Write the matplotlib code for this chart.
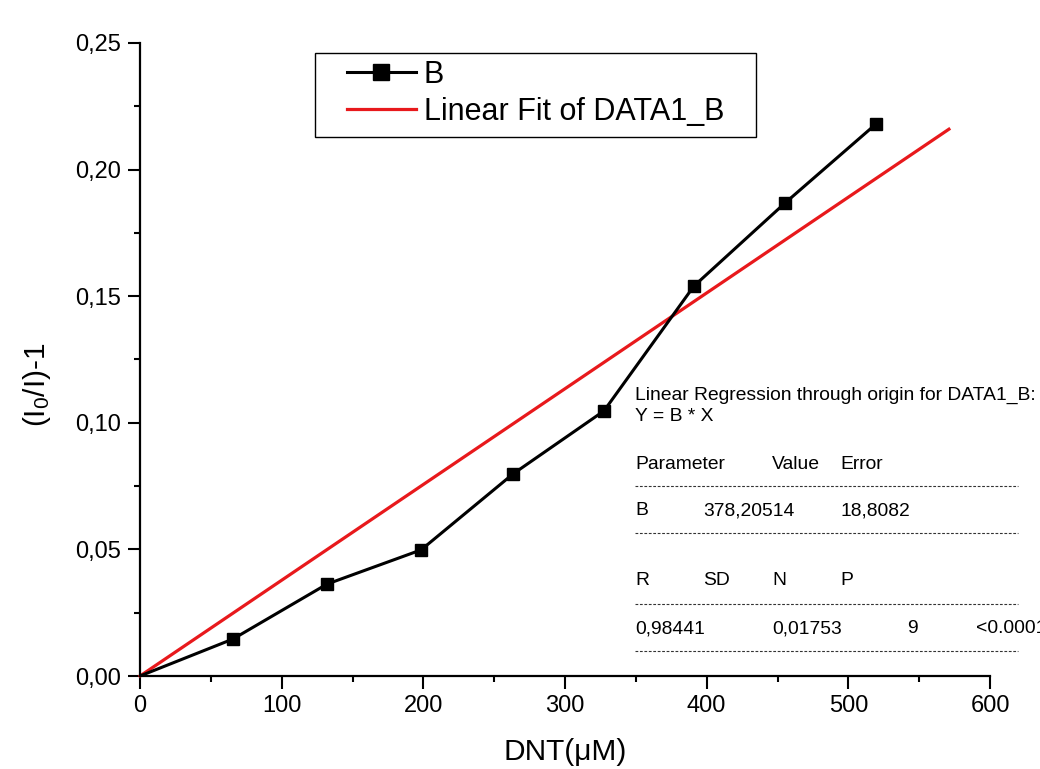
import matplotlib
matplotlib.use("Agg")
import matplotlib.pyplot as plt
from matplotlib.ticker import MultipleLocator, FuncFormatter
from matplotlib.lines import Line2D
from matplotlib.patches import Rectangle

plt.rcParams['font.family'] = ['Liberation Sans', 'DejaVu Sans']
plt.rcParams['mathtext.fontset'] = 'custom'
plt.rcParams['mathtext.rm'] = 'Liberation Sans'
plt.rcParams['mathtext.it'] = 'Liberation Sans:italic'

# data
dnt = [0, 65.6, 132, 198.4, 263.3, 327.5, 391, 455.3, 519.5]
response = [0.0, 0.0146, 0.0363, 0.0498, 0.0798, 0.1047, 0.154, 0.1868, 0.218]
fit_slope = 378.20514e-6
fit_x = [0, 571]
fit_y = [fit_slope * x for x in fit_x]

W, H = 1040, 769
fig = plt.figure(figsize=(W / 100, H / 100), dpi=100)
fig.patch.set_facecolor('white')

def fx(px):
    return px / W

def fy(py):
    return 1 - py / H

ax = fig.add_axes([fx(140), fy(676), fx(990) - fx(140), fy(43) - fy(676)])
ax.set_xlim(0, 600)
ax.set_ylim(0, 0.25)

ax.plot(dnt, response, color='black', lw=2.2, marker='s', markersize=8.5,
        markevery=slice(1, None), label='B', zorder=3)
ax.plot(fit_x, fit_y, color='#e8191c', lw=2.3, label='Linear Fit of DATA1_B', zorder=2, clip_on=False)

for s in ['top', 'right']:
    ax.spines[s].set_visible(False)
for s in ['left', 'bottom']:
    ax.spines[s].set_linewidth(1.6)

ax.xaxis.set_major_locator(MultipleLocator(100))
ax.xaxis.set_minor_locator(MultipleLocator(50))
ax.yaxis.set_major_locator(MultipleLocator(0.05))
ax.yaxis.set_minor_locator(MultipleLocator(0.025))
ax.yaxis.set_major_formatter(FuncFormatter(lambda v, p: f"{v:.2f}".replace('.', ',')))
ax.tick_params(which='major', direction='out', length=9, width=1.5, labelsize=17, pad=5)
ax.tick_params(which='minor', direction='out', length=4.5, width=1.5)

ax.set_xlabel('DNT(μM)', fontsize=21.5)
ax.xaxis.label.set_va('center')
ax.set_ylabel('(I$_0$/I)-1', fontsize=21.5)
ax.yaxis.label.set_va('center')
ax.xaxis.set_label_coords(fx(565), fy(752), transform=fig.transFigure)
ax.yaxis.set_label_coords(fx(37), fy(385), transform=fig.transFigure)

leg = ax.legend(loc='upper left', bbox_to_anchor=(fx(347), fy(60)), bbox_transform=fig.transFigure,
                fontsize=22, frameon=False, handlelength=2.25, handletextpad=0.27,
                borderpad=0, labelspacing=0.22, borderaxespad=0, markerscale=1.3)
fig.add_artist(Rectangle((fx(315), fy(137)), fx(756) - fx(315), fy(53) - fy(137),
                         transform=fig.transFigure, fill=False, edgecolor='black', lw=1.0))

# regression report
ts = 13.9
def t(px, py, s):
    fig.text(fx(px), fy(py + 7), s, fontsize=ts, va='baseline', ha='left')

def dash(py):
    fig.add_artist(Line2D([fx(635), fx(1018)], [fy(py), fy(py)], transform=fig.transFigure,
                          color='#333333', lw=0.8, dashes=(2.5, 1.5)))

t(635, 393, 'Linear Regression through origin for DATA1_B:')
t(635, 414, 'Y = B * X')
t(635, 462, 'Parameter'); t(772, 462, 'Value'); t(840, 462, 'Error')
dash(486)
t(635, 508, 'B'); t(703, 508, '378,20514'); t(840, 508, '18,8082')
dash(533)
t(635, 578, 'R'); t(703, 578, 'SD'); t(772, 578, 'N'); t(840, 578, 'P')
dash(604)
t(635, 626, '0,98441'); t(772, 626, '0,01753'); t(907, 626, '9'); t(976, 626, '<0.0001')
dash(651)

fig.savefig('out.png', dpi=100, facecolor='white')
